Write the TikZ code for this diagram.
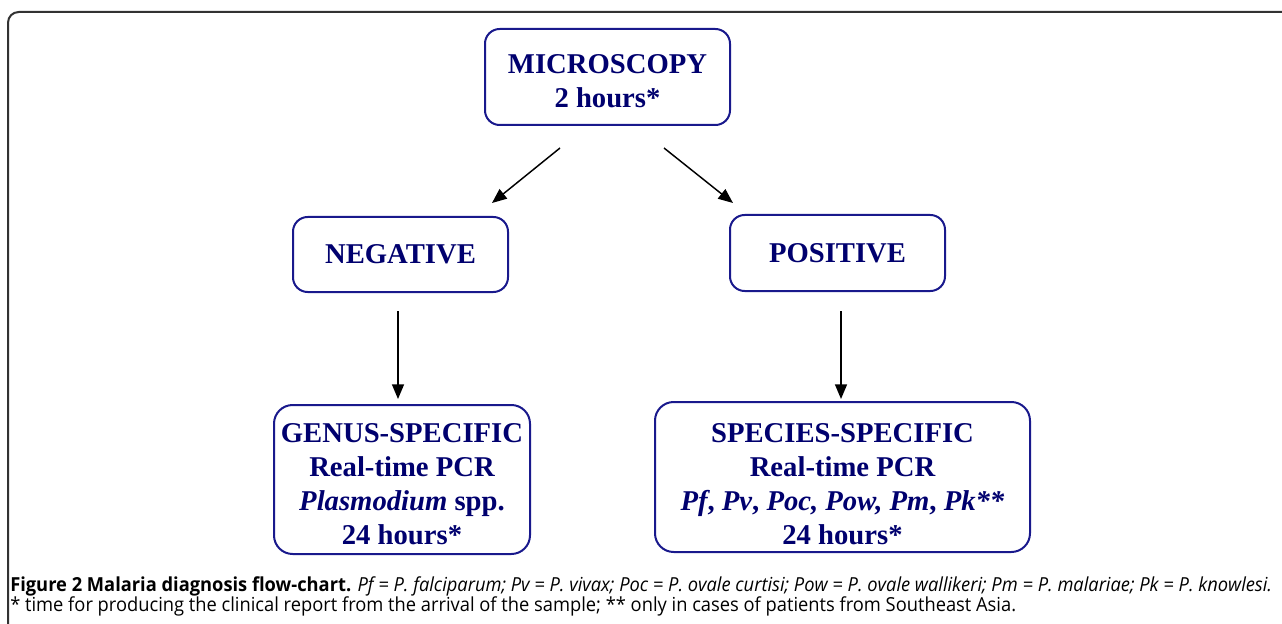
\documentclass[tikz,border=0pt]{standalone}
\usepackage{fontspec}
\setmainfont{Liberation Serif}
\newfontfamily\capfont{Open Sans}
\usetikzlibrary{arrows.meta}
\definecolor{navytext}{RGB}{0,0,110}
\definecolor{navyline}{RGB}{25,25,140}
\definecolor{framegray}{RGB}{50,50,50}
\definecolor{captext}{RGB}{35,31,32}
\newsavebox\capA
\newsavebox\capB
\AtBeginDocument{%
\savebox\capA{\capfont\fontsize{14.5}{17}\selectfont\textbf{Figure 2 Malaria diagnosis flow-chart.} \textit{Pf = P. falciparum; Pv = P. vivax; Poc = P. ovale curtisi; Pow = P. ovale wallikeri; Pm = P. malariae; Pk = P. knowlesi.}}%
\savebox\capB{\capfont\fontsize{14.5}{17}\selectfont * time for producing the clinical report from the arrival of the sample; ** only in cases of patients from Southeast Asia.}%
}
\newcommand\topstrut[1]{\rule{0pt}{#1}}
\begin{document}
\begin{tikzpicture}[x=0.75pt,y=-0.75pt,
  flowbox/.style={draw=navyline, line width=1.5pt, rounded corners=11pt, align=center,
    text=navytext, font=\fontsize{21.5}{25.5}\selectfont\bfseries, inner sep=0pt},
  flowarrow/.style={draw=black, line width=1.1pt, -{Triangle[length=11pt,width=9pt]}},
  captionline/.style={anchor=base west, inner sep=0pt, text=captext}]
\useasboundingbox (0,0) rectangle (1282,624);
\clip (0,0) rectangle (1282,624);
% outer frame
\draw[framegray, line width=1.5pt, rounded corners=8pt] (8,660) -- (8,12) -- (1320,12);
% boxes
\node[flowbox, minimum width=183.75pt, minimum height=72pt] (micro) at (607.5,77) {\topstrut{20.5pt}MICROSCOPY\\2 hours*};
\node[flowbox, minimum width=161.25pt, minimum height=56.25pt] (neg) at (400.5,254.5) {NEGATIVE};
\node[flowbox, minimum width=161.25pt, minimum height=57pt] (pos) at (837.5,253) {POSITIVE};
\node[flowbox, rounded corners=14pt, minimum width=192pt, minimum height=111.75pt] (genus) at (402,479.5)
  {\topstrut{21.5pt}GENUS-SPECIFIC\\Real-time PCR\\\textit{Plasmodium} spp.\\24 hours*};
\node[flowbox, rounded corners=14pt, minimum width=281.25pt, minimum height=112.5pt] (species) at (842.5,477)
  {\topstrut{24.5pt}SPECIES-SPECIFIC\\Real-time PCR\\\textit{Pf}, \textit{Pv}, \textit{Poc, Pow, Pm}, \textit{Pk**}\\24 hours*};
% connectors
\coordinate (a1s) at (560,148); \coordinate (a1e) at (492,203);
\coordinate (a2s) at (664,148); \coordinate (a2e) at (733,203);
\coordinate (a3s) at (398,311); \coordinate (a3e) at (398,399);
\coordinate (a4s) at (841,311); \coordinate (a4e) at (841,399);
\draw[flowarrow] (a1s) -- (a1e);
\draw[flowarrow] (a2s) -- (a2e);
\draw[flowarrow] (a3s) -- (a3e);
\draw[flowarrow] (a4s) -- (a4e);
% caption
\pgfmathsetmacro\capscale{946.5/\the\wd\capA}
\node[captionline] (cap1) at (10,591) {\scalebox{\capscale}[1]{\usebox\capA}};
\node[captionline] (cap2) at (10,611) {\scalebox{\capscale}[1]{\usebox\capB}};
\end{tikzpicture}
\end{document}
